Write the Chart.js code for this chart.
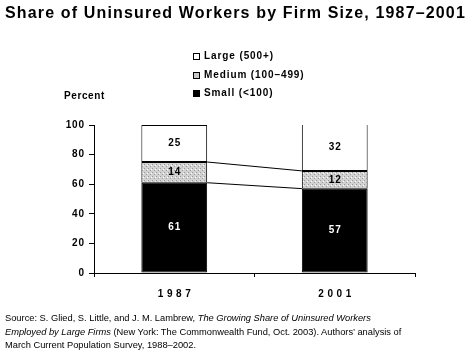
<!DOCTYPE html>
<html>
<head>
<meta charset="utf-8">
<script src="https://cdn.jsdelivr.net/npm/chart.js@4.4.1/dist/chart.umd.min.js"></script>
<style>
  body { margin: 0; background: #fff; font-family: "Liberation Sans", Arial, sans-serif; }
  #wrap { position: relative; width: 470px; height: 354px; overflow: hidden; }
  #chart { position: absolute; left: 0; top: 0; }
  .title { position: absolute; left: 5px; top: 4px; font-size: 16px; font-weight: bold; letter-spacing: 1.15px; white-space: nowrap; }
  .percent { position: absolute; left: 64px; top: 90px; font-size: 10px; font-weight: bold; letter-spacing: 0.6px; }
  .legend { position: absolute; left: 193px; top: 50px; font-size: 10px; font-weight: bold; letter-spacing: 0.9px; }
  .legend div { height: 18.5px; line-height: 12px; white-space: nowrap; }
  .legend span.sw { display: inline-block; width: 7px; height: 7px; border: 1px solid #000; margin-right: 4px; vertical-align: -1px; box-sizing: border-box; }
  .source { position: absolute; left: 5px; top: 312px; font-size: 9.3px; line-height: 13.5px; white-space: nowrap; }
</style>
</head>
<body>
<div id="wrap">
  <canvas id="chart" width="470" height="354"></canvas>
  <div class="title">Share of Uninsured Workers by Firm Size, 1987–2001</div>
  <div class="legend">
    <div><span class="sw" style="background:#fff"></span>Large (500+)</div>
    <div><span class="sw" style="background:#c8c8c8"></span>Medium (100–499)</div>
    <div><span class="sw" style="background:#000"></span>Small (&lt;100)</div>
  </div>
  <div class="percent">Percent</div>
  <div class="source">Source: S. Glied, S. Little, and J. M. Lambrew, <i>The Growing Share of Uninsured Workers</i><br><i>Employed by Large Firms</i> (New York: The Commonwealth Fund, Oct. 2003). Authors’ analysis of<br>March Current Population Survey, 1988–2002.</div>
</div>
<script>
// data
const years = ['1987', '2001'];
const small = [61, 57];
const medium = [14, 12];
const large = [25, 32];
const yTicks = [0, 20, 40, 60, 80, 100];

const HAIR = String.fromCharCode(8202);
const spaced = (s, sep) => String(s).split('').join(sep);

// gray stipple fill for the medium segment
function stipple() {
  const c = document.createElement('canvas');
  c.width = 4; c.height = 4;
  const g = c.getContext('2d');
  g.fillStyle = '#d2d2d2';
  g.fillRect(0, 0, 4, 4);
  g.fillStyle = '#9a9a9a';
  g.fillRect(0, 0, 1, 1);
  g.fillRect(2, 2, 1, 1);
  g.fillStyle = '#ffffff';
  g.fillRect(3, 1, 1, 1);
  return g.createPattern(c, 'repeat');
}

const FONT = { family: '"Liberation Sans", Arial, sans-serif', size: 10, weight: 'bold' };

// lines joining segment tops across the bars
const connectors = {
  id: 'connectors',
  afterDatasetsDraw(chart) {
    const ctx = chart.ctx;
    ctx.save();
    ctx.strokeStyle = '#000';
    ctx.lineWidth = 1;
    [0, 1].forEach(i => {
      const bars = chart.getDatasetMeta(i).data;
      const a = bars[0], b = bars[1];
      ctx.beginPath();
      ctx.moveTo(a.x + a.width / 2, a.y);
      ctx.lineTo(b.x - b.width / 2, b.y);
      ctx.stroke();
    });
    ctx.restore();
  }
};

// value labels inside segments
const valueLabels = {
  id: 'valueLabels',
  afterDatasetsDraw(chart) {
    const ctx = chart.ctx;
    ctx.save();
    ctx.font = 'bold 10px "Liberation Sans", Arial, sans-serif';
    ctx.textAlign = 'center';
    ctx.textBaseline = 'middle';
    chart.data.datasets.forEach((ds, i) => {
      chart.getDatasetMeta(i).data.forEach((bar, j) => {
        const p = bar.getCenterPoint();
        ctx.fillStyle = i === 0 ? '#fff' : '#000';
        ctx.fillText(spaced(ds.data[j], HAIR), p.x, p.y);
      });
    });
    ctx.restore();
  }
};

new Chart(document.getElementById('chart'), {
  type: 'bar',
  data: {
    labels: years,
    datasets: [
      { label: 'Small (<100)', data: small, backgroundColor: '#000' },
      { label: 'Medium (100–499)', data: medium, backgroundColor: stipple() },
      { label: 'Large (500+)', data: large, backgroundColor: '#fff' },
    ].map(d => ({ ...d, borderColor: '#000', borderWidth: 1, borderSkipped: false,
                  barPercentage: 0.41, categoryPercentage: 1 })),
  },
  options: {
    responsive: false,
    animation: false,
    layout: { padding: { left: 54, top: 125, right: 55, bottom: 51 } },
    plugins: { legend: { display: false }, tooltip: { enabled: false } },
    scales: {
      x: {
        stacked: true,
        border: { color: '#000', width: 1 },
        grid: { drawOnChartArea: false, drawTicks: true, tickLength: 4, color: '#000', offset: true },
        ticks: { color: '#000', font: FONT, padding: 11,
                 callback: (v, i) => spaced(years[i], ' ' + HAIR) },
        afterFit: s => { s.height = 30; },
      },
      y: {
        stacked: true,
        min: 0, max: 100,
        border: { color: '#000', width: 1 },
        grid: { drawOnChartArea: false, drawTicks: true, tickLength: 5, color: '#000' },
        ticks: { color: '#000', font: FONT, padding: 5, stepSize: 20,
                 callback: v => yTicks.includes(v) ? spaced(v, HAIR) : '' },
        afterFit: s => { s.width = 40; },
      },
    },
  },
  plugins: [connectors, valueLabels],
});
</script>
</body>
</html>
